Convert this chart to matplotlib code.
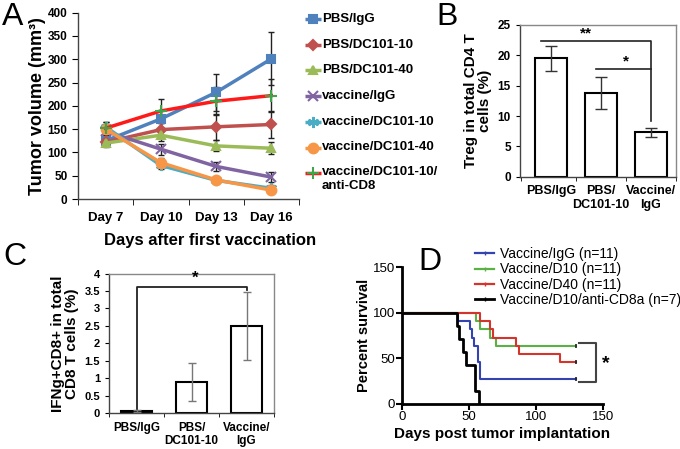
import matplotlib
matplotlib.use("Agg")
import matplotlib.pyplot as plt
import numpy as np
from matplotlib.lines import Line2D

plt.rcParams['font.family'] = ['Liberation Sans', 'DejaVu Sans']
plt.rcParams['axes.linewidth'] = 1.0

# ---------------- Panel A data ----------------
days = ["Day 7", "Day 10", "Day 13", "Day 16"]
a_names = ["PBS/IgG", "PBS/DC101-10", "PBS/DC101-40", "vaccine/IgG",
           "vaccine/DC101-10", "vaccine/DC101-40", "vaccine/DC101-10/\nanti-CD8"]
pbs_igg = [125, 172, 229, 301]
pbs_igg_err = [10, 20, 39, 57]
pbs_d10 = [122, 149, 155, 160]
pbs_d10_err = [8, 15, 28, 28]
pbs_d40 = [120, 137, 114, 109]
pbs_d40_err = [8, 12, 12, 13]
vac_igg = [145, 107, 70, 47]
vac_igg_err = [12, 12, 10, 11]
vac_d10 = [155, 72, 40, 23]
vac_d10_err = [10, 8, 5, 6]
vac_d40 = [150, 78, 41, 19]
vac_d40_err = [12, 10, 6, 5]
vac_d10_cd8 = [152, 189, 210, 222]
vac_d10_cd8_err = [14, 26, 30, 35]

# ---------------- Panel B data ----------------
b_groups = ["PBS/IgG", "PBS/\nDC101-10", "Vaccine/\nIgG"]
b_treg = [19.5, 13.8, 7.3]
b_err = [2.0, 2.7, 0.8]

# ---------------- Panel C data ----------------
c_groups = ["PBS/IgG", "PBS/\nDC101-10", "Vaccine/\nIgG"]
c_ifng = [0.06, 0.9, 2.5]
c_err = [0.03, 0.55, 0.97]

# ---------------- Panel D data ----------------
d_names = ["Vaccine/IgG (n=11)", "Vaccine/D10 (n=11)", "Vaccine/D40 (n=11)",
           "Vaccine/D10/anti-CD8a (n=7)"]
igg_t = [0, 42, 51, 52.5, 54, 56.5, 58, 130]
igg_s = [100, 90.9, 81.8, 72.7, 63.6, 45.5, 27.3, 27.3]
d10_t = [0, 55.5, 58, 66, 70, 130]
d10_s = [100, 90.9, 81.8, 72.7, 63.6, 63.6]
d40_t = [0, 58.5, 65.5, 68, 85.5, 87.5, 118, 130]
d40_s = [100, 90.9, 81.8, 72.7, 63.6, 54.5, 45.5, 45.5]
cd8_t = [0, 41, 42.5, 46, 48, 54.5, 57.5]
cd8_s = [100, 85.7, 71.4, 57.1, 42.9, 14.3, 0]

W, H = 680, 449
fig = plt.figure(figsize=(W / 100, H / 100), dpi=100)


def rect(l, r, t, b):
    return [l / W, (H - b) / H, (r - l) / W, (b - t) / H]


# ================= Panel A =================
axA = fig.add_axes(rect(78, 299, 12.7, 199))
x = np.arange(len(days))
series = [
    (pbs_igg, pbs_igg_err, '#4F81BD', '#4F81BD', 's', 6),
    (pbs_d10, pbs_d10_err, '#C0504D', '#C0504D', 'D', 5),
    (pbs_d40, pbs_d40_err, '#9BBB59', '#9BBB59', '^', 6),
    (vac_igg, vac_igg_err, '#8064A2', '#8064A2', 'x', 7),
    (vac_d10, vac_d10_err, '#4BACC6', '#4BACC6', (6, 2, 0), 8),
    (vac_d40, vac_d40_err, '#F79646', '#F79646', 'o', 7),
    (vac_d10_cd8, vac_d10_cd8_err, '#FF1A1A', '#3CA64A', '+', 8),
]
for vals, err, lc, mc, mk, ms in series:
    axA.errorbar(x, vals, yerr=err, fmt='none', ecolor='#222222', elinewidth=1.0,
                 capsize=2, capthick=1.0, zorder=2)
for vals, err, lc, mc, mk, ms in series:
    axA.plot(x, vals, color=lc, lw=2.5, marker=mk, ms=ms, mfc=mc, mec=mc,
             mew=1.5, zorder=3)
axA.set_xlim(-0.5, 3.5)
axA.set_ylim(0, 400)
axA.set_yticks(np.arange(0, 401, 50))
axA.set_xticks(x)
axA.set_xticklabels(days, fontsize=9.5, fontweight='bold')
axA.set_xticks(np.arange(-0.5, 3.6, 1), minor=True)
axA.tick_params(axis='x', which='major', length=0, pad=9)
axA.tick_params(axis='x', which='minor', length=4, direction='out')
axA.tick_params(axis='y', length=4, direction='out', labelsize=8.5)
for lab in axA.get_yticklabels():
    lab.set_fontweight('bold')
axA.spines['top'].set_visible(False)
axA.spines['right'].set_visible(False)
axA.spines['left'].set_color('#444444')
axA.spines['bottom'].set_color('#444444')
axA.set_ylabel("Tumor volume (mm³)", fontsize=13, fontweight='bold', labelpad=1)
fig.text(210 / W, 1 - 241 / H, "Days after first vaccination", fontsize=12,
         fontweight='bold', ha='center', va='center')

# Legend for A (manual)
legA = fig.add_axes(rect(300, 450, 5, 205))
legA.set_xlim(300, 450)
legA.set_ylim(205, 5)
legA.axis('off')
for i, (vals, err, lc, mc, mk, ms) in enumerate(series):
    yy = 19 + i * 25.7
    legA.plot([305, 321], [yy, yy], color=lc, lw=2.5, solid_capstyle='butt')
    legA.plot([313], [yy], marker=mk, ms=ms, mfc=mc, mec=mc, mew=1.5, color=lc)
    if '\n' in a_names[i]:
        legA.text(322, yy - 7, a_names[i], fontsize=9.5, fontweight='bold', va='top',
                  ha='left', linespacing=1.15)
    else:
        legA.text(322, yy, a_names[i], fontsize=9.5, fontweight='bold', va='center',
                  ha='left')

# ================= Panel B =================
axB = fig.add_axes(rect(520, 676, 25, 176.7))
xb = np.arange(len(b_groups))
axB.bar(xb, b_treg, width=0.64, color='white', edgecolor='black', linewidth=1.5, zorder=2)
axB.errorbar(xb, b_treg, yerr=b_err, fmt='none', ecolor='#333333', elinewidth=1.0,
             capsize=4, capthick=1.0, zorder=3)
axB.set_xlim(-0.62, 2.5)
axB.set_ylim(0, 25)
axB.set_yticks(np.arange(0, 26, 5))
axB.set_xticks(xb)
axB.set_xticklabels(b_groups, fontsize=9, fontweight='bold')
axB.set_xticks([-0.6, 0.5, 1.5, 2.5], minor=True)
axB.tick_params(axis='x', which='major', length=0, pad=6)
axB.tick_params(axis='x', which='minor', length=3, direction='out')
axB.tick_params(axis='y', length=3, direction='out', labelsize=8.5)
for lab in axB.get_yticklabels():
    lab.set_fontweight('bold')
for s in ['top', 'right']:
    axB.spines[s].set_color('#888888')
for s in ['left', 'bottom']:
    axB.spines[s].set_color('#444444')
axB.set_ylabel("Treg in total CD4 T\ncells (%)", fontsize=11, fontweight='bold',
               labelpad=4, linespacing=1.0)
# significance
axB.plot([-0.2, 2.0, 2.0], [22.4, 22.4, 9.1], color='#222222', lw=1.2)
axB.plot([0.9, 2.0], [17.7, 17.7], color='#222222', lw=1.2)
axB.text(0.7, 23.6, "**", fontsize=11, fontweight='bold', ha='center', va='center')
axB.text(1.5, 19.0, "*", fontsize=11, fontweight='bold', ha='center', va='center')

# ================= Panel C =================
axC = fig.add_axes(rect(109, 274, 273.5, 413.3))
xc = np.arange(len(c_groups))
axC.bar(xc, c_ifng, width=0.55, color='white', edgecolor='black', linewidth=1.5, zorder=2)
axC.errorbar(xc, c_ifng, yerr=c_err, fmt='none', ecolor='#777777', elinewidth=1.0,
             capsize=3, capthick=1.0, zorder=3)
axC.set_xlim(-0.5, 2.5)
axC.set_ylim(0, 4)
axC.set_yticks(np.arange(0, 4.01, 0.5))
axC.set_yticklabels(["0", "0.5", "1", "1.5", "2", "2.5", "3", "3.5", "4"])
axC.set_xticks(xc)
axC.set_xticklabels(c_groups, fontsize=8.5, fontweight='bold')
axC.set_xticks([-0.5, 0.5, 1.5, 2.5], minor=True)
axC.tick_params(axis='x', which='major', length=0, pad=6)
axC.tick_params(axis='x', which='minor', length=3, direction='out')
axC.tick_params(axis='y', length=3, direction='out', labelsize=8)
for lab in axC.get_yticklabels():
    lab.set_fontweight('bold')
for s in ['top', 'right']:
    axC.spines[s].set_color('#888888')
for s in ['left', 'bottom']:
    axC.spines[s].set_color('#444444')
axC.set_ylabel("IFNg+CD8+ in total\nCD8 T cells (%)", fontsize=11, fontweight='bold',
               labelpad=4, linespacing=1.0)
axC.plot([0, 0, 2, 2], [0.12, 3.62, 3.62, 3.52], color='#222222', lw=1.3)
axC.text(1.07, 3.86, "*", fontsize=12, fontweight='bold', ha='center', va='center')

# ================= Panel D =================
axD = fig.add_axes(rect(401.7, 603, 267, 404))
d_curves = [
    (igg_t, igg_s, '#3344B0', 1.5, True),
    (d10_t, d10_s, '#5CB146', 1.5, True),
    (d40_t, d40_s, '#D4342C', 1.5, True),
    (cd8_t, cd8_s, '#000000', 2.0, False),
]
handles = []
for t, s, col, lw, cens in d_curves:
    axD.step(t, s, where='post', color=col, lw=lw, zorder=3)
    if cens:
        axD.plot([t[-1]], [s[-1]], marker='|', ms=3, color='#222222', mew=1.2, zorder=4)
    handles.append(Line2D([0], [0], color=col, lw=2 if lw > 1.5 else 1.6,
                          marker='|', ms=3, mec=col))
axD.set_xlim(0, 150)
axD.set_ylim(0, 150)
axD.set_xticks([0, 50, 100, 150])
axD.set_yticks([0, 50, 100, 150])
axD.tick_params(length=4, width=1.5, direction='out', labelsize=9.5, pad=1)
axD.spines['top'].set_visible(False)
axD.spines['right'].set_visible(False)
axD.spines['left'].set_linewidth(2)
axD.spines['bottom'].set_linewidth(2)
axD.set_ylabel("Percent survival", fontsize=10.5, fontweight='bold', labelpad=1)
axD.set_xlabel("Days post tumor implantation", fontsize=11, fontweight='bold', labelpad=3)
axD.plot([132, 145, 145, 132], [67, 67, 24, 24], color='#444444', lw=1.5, clip_on=False)
axD.text(152, 44, "*", fontsize=14, fontweight='bold', ha='center', va='center')
fig.legend(handles, d_names, loc='upper left', bbox_to_anchor=(475 / W, 1 - 247 / H),
           frameon=False, handlelength=1.4, labelspacing=0.1, fontsize=10,
           handletextpad=0.4, borderaxespad=0, borderpad=0)

# Panel letters
fig.text(2 / W, 1 - 25 / H, "A", fontsize=23, ha='left', va='baseline')
fig.text(436 / W, 1 - 25 / H, "B", fontsize=23, ha='left', va='baseline')
fig.text(3 / W, 1 - 265 / H, "C", fontsize=23, ha='left', va='baseline')
fig.text(418 / W, 1 - 270 / H, "D", fontsize=23, ha='left', va='baseline')

fig.savefig("out.png", dpi=100)
